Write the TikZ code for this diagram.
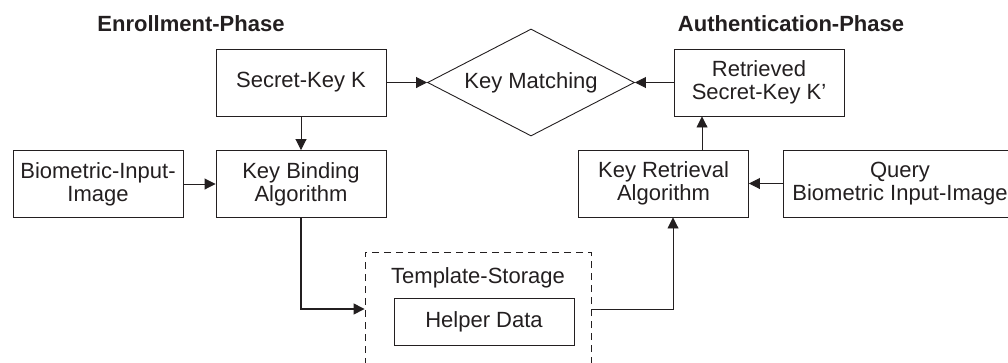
\documentclass[tikz,border=0pt]{standalone}
\usepackage{fontspec}
\setmainfont{Liberation Sans}
\usetikzlibrary{arrows.meta,shapes.geometric}
\definecolor{ink}{HTML}{231F20}
\begin{document}
\begin{tikzpicture}[x=1pt,y=-1pt,
  every node/.style={font=\fontsize{22}{23}\selectfont, text=ink},
  box/.style={draw=ink, line width=0.9pt, minimum width=170pt, minimum height=67pt, inner sep=0pt, align=center},
  phase/.style={font=\fontsize{22}{23}\selectfont\bfseries},
  link/.style={draw=ink, line width=0.9pt, -{Triangle[length=11pt,width=11pt]}}]
\clip (0,0) rectangle (1008,362);
\node[phase] (enroll) at (191,24) {Enrollment-Phase};
\node[phase] (auth) at (791,24) {Authentication-Phase};
\node[box] (secret) at (301,82.5) {Secret-Key K};
\node[box] (bioin) at (98,184) {Biometric-Input-\\Image};
\node[box] (binding) at (301,184) {Key Binding\\Algorithm};
\node[draw=ink, line width=0.9pt, diamond, aspect=1.93, minimum width=207pt, minimum height=107pt, inner sep=0pt] (match) at (531,82.5) {Key Matching};
\node[box] (retrieved) at (759,82.5) {Retrieved\\Secret-Key K'};
\node[box] (retrieval) at (663.5,183.5) {Key Retrieval\\Algorithm};
\node[box, minimum width=234pt] (query) at (900,183.5) {Query\\Biometric Input-Image};
\node[draw=ink, line width=0.9pt, dash pattern=on 7pt off 5pt, minimum width=226pt, minimum height=114pt] (storage) at (478,309) {};
\node (storetitle) at (478,278) {Template-Storage};
\node[box, minimum width=180pt, minimum height=47pt] (helper) at (484,321.5) {Helper Data};
\draw[link] (secret) -- (binding);
\draw[link] (bioin) -- (binding);
\draw[link] (secret) -- (match);
\draw[link] (retrieved) -- (match);
\draw[link] (query) -- (retrieval);
\draw[link] ([xshift=38.5pt]retrieval.north) -- ([xshift=38.5pt]retrieval.north |- retrieved.south);
\draw[link, line width=1.4pt] (binding.south) |- (storage.west);
\draw[link] (storage.east) -| ([xshift=9.5pt]retrieval.south);
\end{tikzpicture}
\end{document}
